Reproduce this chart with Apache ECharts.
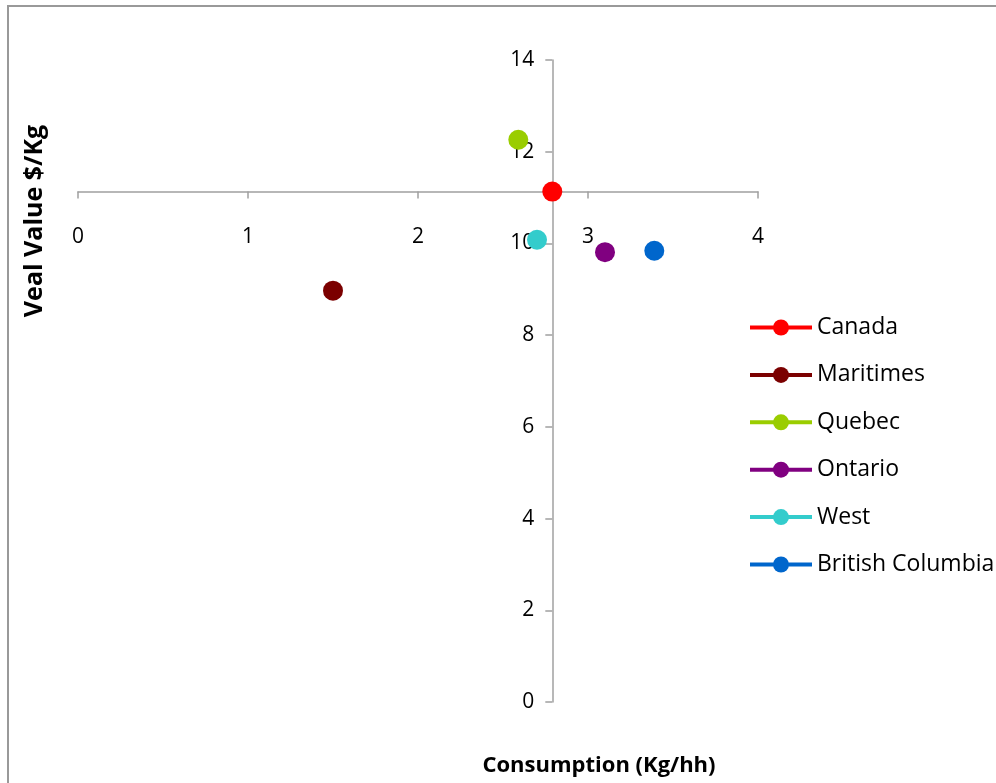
<!DOCTYPE html>
<html>
<head>
<meta charset="utf-8">
<script src="https://cdn.jsdelivr.net/npm/echarts@6/dist/echarts.min.js"></script>
<style>
  html, body { margin: 0; padding: 0; background: #fff; }
  #main { width: 996px; height: 783px; }
</style>
</head>
<body>
<div id="main"></div>
<script>
// regions and their values
const regions = ['Canada', 'Maritimes', 'Quebec', 'Ontario', 'West', 'British Columbia']
const consumption = [2.79, 1.50, 2.59, 3.10, 2.70, 3.39]
const vealValue = [11.13, 8.97, 12.26, 9.81, 10.08, 9.84]
const colors = ['#ff0000', '#7b0000', '#9acd00', '#800080', '#33cccc', '#0066cc']

// axes cross at the Canada point
const crossX = consumption[0]
const crossY = vealValue[0]

const xTicks = [0, 4, 1]   // min, max, interval
const yTicks = [0, 14, 2]

const FONT = '"Open Sans", "Liberation Sans", sans-serif'

let chartDom = document.getElementById('main')
let myChart = echarts.init(chartDom)

const axisCommon = {
    type: 'value',
    splitLine: { show: false },
    axisLine: { show: true, onZero: false, lineStyle: { color: '#a0a0a0', width: 1.5 } },
    axisTick: { show: true, length: 7, lineStyle: { color: '#a0a0a0', width: 1.5 } }
}

let option = {
    animation: false,
    backgroundColor: '#fff',
    grid: { left: 78, right: 238, top: 60, bottom: 81 },
    xAxis: Object.assign({}, axisCommon, {
        min: xTicks[0],
        max: xTicks[1],
        interval: xTicks[2],
        position: 'bottom',
        axisLabel: { margin: 35, fontSize: 21, color: '#000', fontFamily: FONT }
    }),
    yAxis: Object.assign({}, axisCommon, {
        min: yTicks[0],
        max: yTicks[1],
        interval: yTicks[2],
        position: 'left',
        axisLabel: { margin: 18, fontSize: 21, color: '#000', fontFamily: FONT }
    }),
    legend: {
        orient: 'vertical',
        left: 743,
        top: 311,
        itemWidth: 62,
        itemHeight: 20,
        itemGap: 24.4,
        lineStyle: { width: 4 },
        textStyle: { fontSize: 23, lineHeight: 20, color: '#000', fontFamily: FONT },
        data: regions
    },
    graphic: [
        {
            type: 'rect',
            shape: { x: 8, y: 6, width: 1100, height: 900 },
            style: { fill: 'none', stroke: '#999', lineWidth: 2 },
            silent: true
        },
        {
            type: 'text',
            x: 35,
            y: 221,
            rotation: Math.PI / 2,
            style: {
                text: 'Veal Value $/Kg',
                font: 'bold 25px ' + FONT,
                fill: '#000',
                align: 'center',
                verticalAlign: 'middle'
            }
        },
        {
            type: 'text',
            x: 599,
            y: 766,
            style: {
                text: 'Consumption (Kg/hh)',
                font: 'bold 22px ' + FONT,
                fill: '#000',
                align: 'center',
                verticalAlign: 'middle'
            }
        }
    ],
    series: regions.map((name, i) => ({
        name: name,
        type: 'line',
        symbol: 'circle',
        symbolSize: 20,
        color: colors[i],
        lineStyle: { width: 4 },
        data: [[consumption[i], vealValue[i]]]
    }))
}

myChart.setOption(option)

// move the axis lines so they cross at (crossX, crossY)
const origin = myChart.convertToPixel({ gridIndex: 0 }, [xTicks[0], yTicks[0]])
const cross = myChart.convertToPixel({ gridIndex: 0 }, [crossX, crossY])
myChart.setOption({
    xAxis: { offset: cross[1] - origin[1] },
    yAxis: { offset: origin[0] - cross[0] }
})
</script>
</body>
</html>
